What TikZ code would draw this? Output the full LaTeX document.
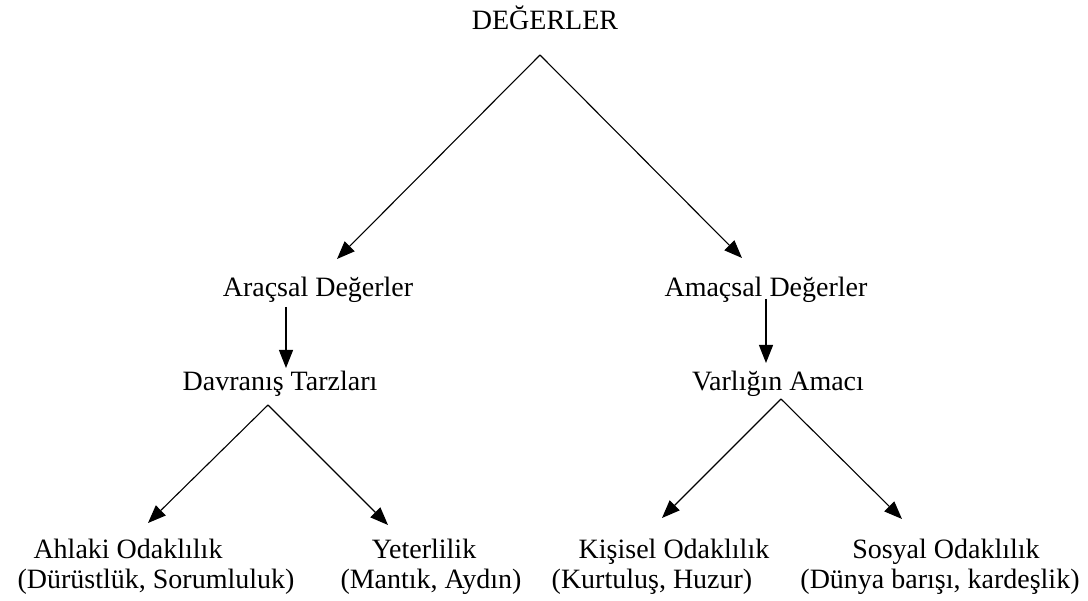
\documentclass[tikz,border=0pt]{standalone}
\usepackage{fontspec}
\setmainfont{Liberation Serif}
\usetikzlibrary{arrows.meta}
\begin{document}
\begin{tikzpicture}[x=1pt,y=-1pt,
  lbl/.style={inner sep=0pt,anchor=base,font=\fontsize{28}{32}\selectfont},
  arr/.style={line width=1.1pt,-{Triangle[length=18pt,width=14pt]}}]
\useasboundingbox (0,0) rectangle (1088,601);
% labels
\node[lbl] (deg) at (545,30) {DEĞERLER};
\node[lbl] (arac) at (318,297) {Araçsal Değerler};
\node[lbl] (amac) at (766,297) {Amaçsal Değerler};
\node[lbl] (davr) at (280,391) {Davranış Tarzları};
\node[lbl] (varl) at (778,391) {Varlığın Amacı};
\node[lbl] (ahl) at (128,559) {Ahlaki Odaklılık};
\node[lbl] (ahl2) at (156,589) {(Dürüstlük, Sorumluluk)};
\node[lbl] (yet) at (424,559) {Yeterlilik};
\node[lbl] (yet2) at (431,589) {(Mantık, Aydın)};
\node[lbl] (kis) at (674,559) {Kişisel Odaklılık};
\node[lbl] (kis2) at (652,589) {(Kurtuluş, Huzur)};
\node[lbl] (sos) at (946,559) {Sosyal Odaklılık};
\node[lbl] (sos2) at (940,589) {(Dünya barışı, kardeşlik)};
% connector points
\coordinate (a0) at (540,55);
\coordinate (t1) at (337,259);
\coordinate (t2) at (742,258);
\coordinate (v1s) at (286,307);
\coordinate (v1e) at (286,368);
\coordinate (v2s) at (766,299);
\coordinate (v2e) at (766,363);
\coordinate (a1) at (268,405);
\coordinate (t3) at (148,523);
\coordinate (t4) at (388,525);
\coordinate (a2) at (781,399);
\coordinate (t5) at (662,518);
\coordinate (t6) at (902,519);
% connectors
\draw[arr] (a0) -- (t1);
\draw[arr] (a0) -- (t2);
\draw[arr] (v1s) -- (v1e);
\draw[arr] (v2s) -- (v2e);
\draw[arr] (a1) -- (t3);
\draw[arr] (a1) -- (t4);
\draw[arr] (a2) -- (t5);
\draw[arr] (a2) -- (t6);
\end{tikzpicture}
\end{document}
